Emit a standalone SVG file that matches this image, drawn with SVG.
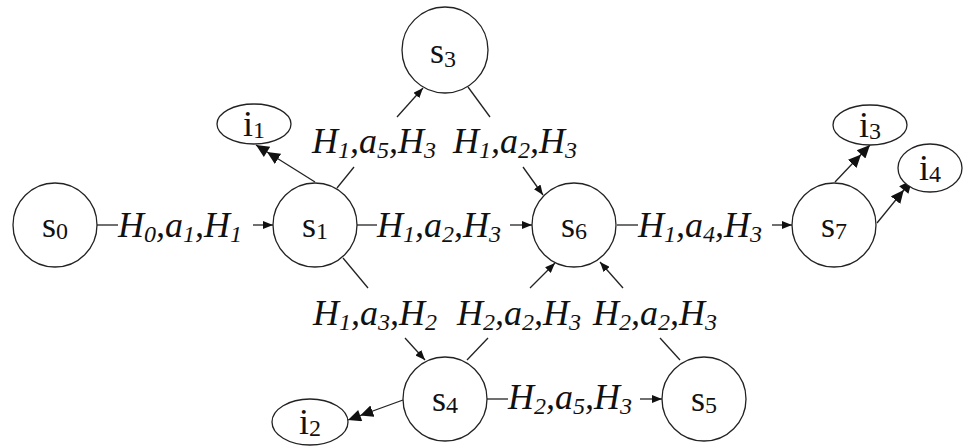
<svg xmlns="http://www.w3.org/2000/svg" width="965" height="448" viewBox="0 0 965 448">
<defs>
<style>
.n{fill:#fff;stroke:#222;stroke-width:1.3}
.c line{stroke:#222;stroke-width:1.3}
.t{font-family:"Liberation Serif","Times New Roman",serif;font-size:36px;fill:#111}
.l{font-family:"Liberation Serif","Times New Roman",serif;font-size:36px;font-style:italic;fill:#111}
.s{font-size:24px}
</style>
<marker id="a" viewBox="0 0 10 8" refX="10" refY="4" markerWidth="10" markerHeight="8" markerUnits="userSpaceOnUse" orient="auto"><path d="M0,0L10,4L0,8z" fill="#111"/></marker>
<marker id="d" viewBox="0 0 26 12" refX="26" refY="6" markerWidth="26" markerHeight="12" markerUnits="userSpaceOnUse" orient="auto"><path d="M0,0L13,6L0,12zM13,0L26,6L13,12z" fill="#111"/></marker>
</defs>
<rect width="965" height="448" fill="#fff"/>
<g id="connectors" class="c">
<line x1="97" y1="225" x2="118" y2="225"/><line x1="253" y1="225" x2="273" y2="225" marker-end="url(#a)"/>
<line x1="357" y1="225" x2="377" y2="225"/><line x1="510" y1="225" x2="532" y2="225" marker-end="url(#a)"/>
<line x1="617" y1="225" x2="638" y2="225"/><line x1="772" y1="225" x2="792" y2="225" marker-end="url(#a)"/>
<line x1="337" y1="188" x2="354" y2="167"/><line x1="397" y1="117" x2="423" y2="88" marker-end="url(#a)"/>
<line x1="468" y1="87" x2="490" y2="117"/><line x1="523" y1="167" x2="543" y2="195" marker-end="url(#a)"/>
<line x1="343" y1="258" x2="368" y2="288"/><line x1="405" y1="338" x2="425" y2="360" marker-end="url(#a)"/>
<line x1="467" y1="360" x2="488" y2="338"/><line x1="530" y1="288" x2="555" y2="263" marker-end="url(#a)"/>
<line x1="680" y1="360" x2="660" y2="338"/><line x1="623" y1="288" x2="600" y2="262" marker-end="url(#a)"/>
<line x1="487" y1="399" x2="508" y2="399"/><line x1="640" y1="399" x2="662" y2="399" marker-end="url(#a)"/>
<line x1="315" y1="182" x2="256" y2="145" marker-end="url(#d)"/>
<line x1="835" y1="182" x2="870" y2="145" marker-end="url(#d)"/>
<line x1="877" y1="223" x2="912" y2="180" marker-end="url(#d)"/>
<line x1="403" y1="400" x2="348" y2="420" marker-end="url(#d)"/>
</g>
<g id="labels">
<text class="l" x="118" y="237">H<tspan class="s" dy="5">0</tspan><tspan dy="-5">,a</tspan><tspan class="s" dy="5">1</tspan><tspan dy="-5">,H</tspan><tspan class="s" dy="5">1</tspan></text>
<text class="l" x="377" y="237">H<tspan class="s" dy="5">1</tspan><tspan dy="-5">,a</tspan><tspan class="s" dy="5">2</tspan><tspan dy="-5">,H</tspan><tspan class="s" dy="5">3</tspan></text>
<text class="l" x="638" y="237">H<tspan class="s" dy="5">1</tspan><tspan dy="-5">,a</tspan><tspan class="s" dy="5">4</tspan><tspan dy="-5">,H</tspan><tspan class="s" dy="5">3</tspan></text>
<text class="l" x="312" y="153">H<tspan class="s" dy="5">1</tspan><tspan dy="-5">,a</tspan><tspan class="s" dy="5">5</tspan><tspan dy="-5">,H</tspan><tspan class="s" dy="5">3</tspan></text>
<text class="l" x="453" y="153">H<tspan class="s" dy="5">1</tspan><tspan dy="-5">,a</tspan><tspan class="s" dy="5">2</tspan><tspan dy="-5">,H</tspan><tspan class="s" dy="5">3</tspan></text>
<text class="l" x="313" y="325">H<tspan class="s" dy="5">1</tspan><tspan dy="-5">,a</tspan><tspan class="s" dy="5">3</tspan><tspan dy="-5">,H</tspan><tspan class="s" dy="5">2</tspan></text>
<text class="l" x="457" y="325">H<tspan class="s" dy="5">2</tspan><tspan dy="-5">,a</tspan><tspan class="s" dy="5">2</tspan><tspan dy="-5">,H</tspan><tspan class="s" dy="5">3</tspan></text>
<text class="l" x="593" y="325">H<tspan class="s" dy="5">2</tspan><tspan dy="-5">,a</tspan><tspan class="s" dy="5">2</tspan><tspan dy="-5">,H</tspan><tspan class="s" dy="5">3</tspan></text>
<text class="l" x="508" y="409">H<tspan class="s" dy="5">2</tspan><tspan dy="-5">,a</tspan><tspan class="s" dy="5">5</tspan><tspan dy="-5">,H</tspan><tspan class="s" dy="5">3</tspan></text>
</g>
<g id="s0"><circle class="n" cx="55" cy="225" r="42"/><text class="t" x="55" y="237" text-anchor="middle">s<tspan class="s" dy="2">0</tspan></text></g>
<g id="s1"><circle class="n" cx="315" cy="225" r="42"/><text class="t" x="315" y="237" text-anchor="middle">s<tspan class="s" dy="2">1</tspan></text></g>
<g id="s3"><circle class="n" cx="445" cy="50" r="43"/><text class="t" x="443" y="63" text-anchor="middle">s<tspan class="s" dy="4">3</tspan></text></g>
<g id="s6"><circle class="n" cx="574" cy="225" r="42"/><text class="t" x="574" y="237" text-anchor="middle">s<tspan class="s" dy="2">6</tspan></text></g>
<g id="s7"><circle class="n" cx="834" cy="225" r="42"/><text class="t" x="834" y="237" text-anchor="middle">s<tspan class="s" dy="2">7</tspan></text></g>
<g id="s4"><circle class="n" cx="445" cy="399" r="42"/><text class="t" x="445" y="411" text-anchor="middle">s<tspan class="s" dy="2">4</tspan></text></g>
<g id="s5"><circle class="n" cx="704" cy="399" r="42"/><text class="t" x="704" y="411" text-anchor="middle">s<tspan class="s" dy="2">5</tspan></text></g>
<g id="i1"><ellipse class="n" cx="254" cy="124" rx="37" ry="20"/><text class="t" x="254" y="136" text-anchor="middle">i<tspan class="s" dy="2">1</tspan></text></g>
<g id="i3"><ellipse class="n" cx="870" cy="125" rx="37" ry="20"/><text class="t" x="870" y="137" text-anchor="middle">i<tspan class="s" dy="2">3</tspan></text></g>
<g id="i4"><ellipse class="n" cx="930" cy="168" rx="32" ry="24"/><text class="t" x="930" y="180" text-anchor="middle">i<tspan class="s" dy="2">4</tspan></text></g>
<g id="i2"><ellipse class="n" cx="310" cy="422" rx="38" ry="23"/><text class="t" x="310" y="434" text-anchor="middle">i<tspan class="s" dy="2">2</tspan></text></g>
</svg>
